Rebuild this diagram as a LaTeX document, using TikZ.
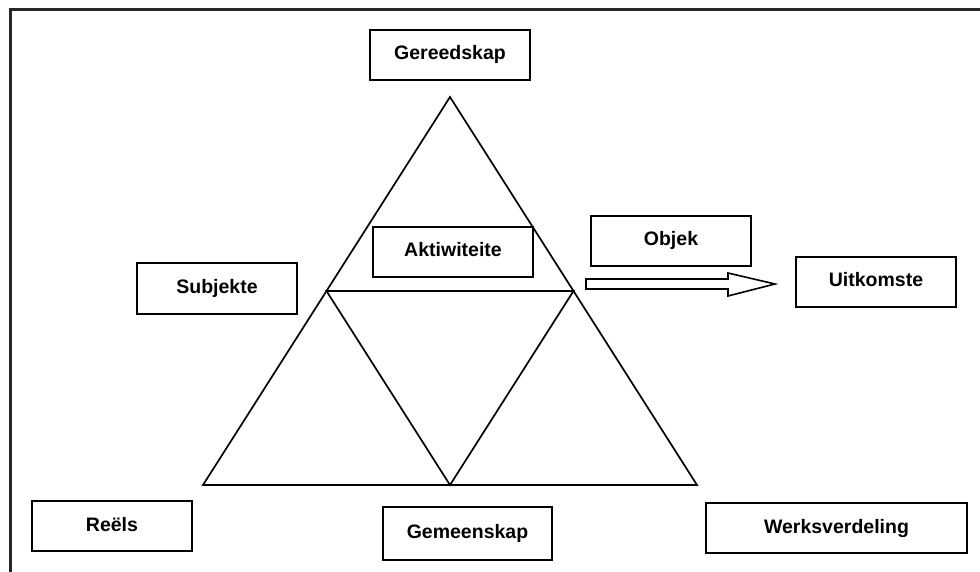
\documentclass[tikz,border=0pt]{standalone}
\usepackage{fontspec}
\setmainfont{Liberation Sans}
\usetikzlibrary{calc}
\begin{document}
\begin{tikzpicture}[x=1pt,y=-1pt,
  lbl/.style={draw=black,line width=1.6pt,fill=white,rectangle,inner sep=0pt,
    text height=14pt,text depth=4pt,
    font=\fontsize{19.5}{22}\selectfont\bfseries},
  tri/.style={line width=1.7pt,line join=miter}]
\useasboundingbox (0,0) rectangle (980,572);
\fill[white] (0,0) rectangle (980,572);
% frame (top and left visible)
\draw[line width=3pt,color=black!85] (980,10) -- (10.5,10) -- (10.5,572);
% triangle
\coordinate (A) at (450,97);
\coordinate (L) at (203,485);
\coordinate (R) at (697,485);
\coordinate (ML) at ($(A)!0.5!(L)$);
\coordinate (MR) at ($(A)!0.5!(R)$);
\coordinate (MB) at ($(L)!0.5!(R)$);
\draw[tri] (A) -- (L) -- (R) -- cycle;
\draw[tri] (ML) -- (MR) -- (MB) -- cycle;
% boxes
\node[lbl,minimum width=160pt,minimum height=50pt] (ger) at (450,55) {Gereedskap};
\node[lbl,minimum width=160pt,minimum height=50pt] (akt) at (453,252) {Aktiwiteite};
\node[lbl,minimum width=160pt,minimum height=50pt] (obj) at (671,241) {Objek};
\node[lbl,minimum width=160pt,minimum height=50pt] (uit) at (876,282) {Uitkomste};
\node[lbl,minimum width=160pt,minimum height=51pt] (sub) at (217,288.5) {Subjekte};
\node[lbl,minimum width=160pt,minimum height=50pt] (ree) at (112,526) {Reëls};
\node[lbl,minimum width=169pt,minimum height=53pt] (gem) at (467.5,533.5) {Gemeenskap};
\node[lbl,minimum width=261pt,minimum height=50pt] (wer) at (836.5,528) {Werksverdeling};
% hollow arrow
\draw[line width=1.6pt,line join=miter,fill=white]
  (586,279) -- (728,279) -- (728,273) -- (775,284) -- (728,296) -- (728,289) -- (586,289) -- cycle;
\end{tikzpicture}
\end{document}
